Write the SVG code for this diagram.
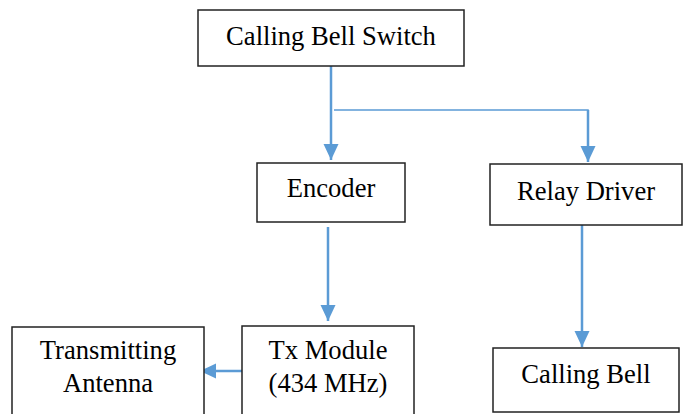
<svg xmlns="http://www.w3.org/2000/svg" width="686" height="414" viewBox="0 0 686 414">
<defs>
<style>
.box{fill:#fff;stroke:#222;stroke-width:1.5}
.t{font-family:"Liberation Serif","Times New Roman",serif;font-size:26.6px;fill:#000;text-anchor:middle}
.c{stroke:#5B9BD5;stroke-width:2.5;fill:none}
.c2{stroke:#5B9BD5;stroke-width:1.5;fill:none}
</style>
<marker id="ah" markerUnits="userSpaceOnUse" markerWidth="16" markerHeight="16" viewBox="0 0 16 16" refX="16" refY="8" orient="auto">
<path d="M0,0.5 L16,8 L0,15.5 Z" fill="#5B9BD5"/>
</marker>
</defs>
<rect width="686" height="414" fill="#fff"/>
<g id="connectors">
<line class="c" x1="331" y1="66" x2="331" y2="160" marker-end="url(#ah)"/>
<polyline class="c2" points="334,110 588,110 588,114"/>
<line class="c" x1="588" y1="110" x2="588" y2="162" marker-end="url(#ah)"/>
<line class="c" x1="328" y1="227" x2="328" y2="321" marker-end="url(#ah)"/>
<line class="c" x1="582" y1="225" x2="582" y2="347" marker-end="url(#ah)"/>
<line class="c" x1="242" y1="371" x2="200" y2="371" marker-end="url(#ah)"/>
</g>
<g id="switch">
<rect class="box" x="198" y="10" width="266" height="56"/>
<text class="t" x="331" y="45">Calling Bell Switch</text>
</g>
<g id="encoder">
<rect class="box" x="257" y="163" width="148" height="59"/>
<text class="t" x="331" y="197">Encoder</text>
</g>
<g id="relay">
<rect class="box" x="490" y="164" width="192" height="61"/>
<text class="t" x="586" y="200">Relay Driver</text>
</g>
<g id="tx">
<rect class="box" x="242" y="326" width="172" height="95"/>
<text class="t" x="328" y="359">Tx Module</text>
<text class="t" x="328" y="392">(434 MHz)</text>
</g>
<g id="antenna">
<rect class="box" x="12" y="327" width="192" height="95"/>
<text class="t" x="108" y="359">Transmitting</text>
<text class="t" x="108" y="392">Antenna</text>
</g>
<g id="bell">
<rect class="box" x="493" y="348" width="186" height="64"/>
<text class="t" x="586" y="383">Calling Bell</text>
</g>
</svg>
